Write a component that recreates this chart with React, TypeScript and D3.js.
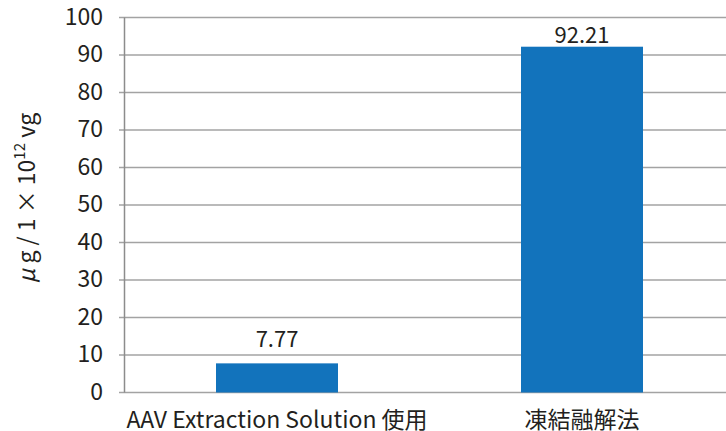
import React from "react";
import * as d3 from "d3";

const categories = ["AAV Extraction Solution 使用", "凍結融解法"];
const values = [7.77, 92.21];
const valueLabels = ["7.77", "92.21"];
const yTicks = [0, 10, 20, 30, 40, 50, 60, 70, 80, 90, 100];

const W = 726;
const H = 431;
const FONT = "'Noto Sans CJK JP', 'Noto Sans', sans-serif";

export default function App() {
  const x0 = 124.5;
  const x1 = 734.5;
  const y = d3.scaleLinear().domain([0, 100]).range([392.5, 17.5]);
  const x = d3.scaleBand<string>().domain(categories).range([x0, x1]).padding(0);
  const bw = x.bandwidth() * 0.4;
  const textColor = "#231f20";
  return (
    <svg width={W} height={H} style={{ position: "absolute", left: 0, top: 0, background: "#fff" }}>
      {yTicks.map((t) => (
        <g key={t}>
          <line x1={119} x2={W} y1={y(t)} y2={y(t)} stroke="#a3a3a3" strokeWidth={1.5} />
          <text x={103} y={y(t) + 7} textAnchor="end" fontFamily={FONT} fontSize={23} fill={textColor}>
            {t}
          </text>
        </g>
      ))}
      <line x1={x0} x2={x0} y1={y(100)} y2={y(0)} stroke="#8c8c8c" strokeWidth={1.5} />
      {categories.map((c, i) => {
        const cx = (x(c) as number) + x.bandwidth() / 2;
        const top = y(values[i]);
        const ly = Math.max(top - 16, y(100) + 25.5);
        return (
          <g key={c}>
            <rect x={cx - bw / 2} y={top} width={bw} height={y(0) - top} fill="#1273bc" />
            <text x={cx} y={ly} textAnchor="middle" fontFamily={FONT} fontSize={22} fill={textColor}>
              {valueLabels[i]}
            </text>
            <text x={cx} y={428} textAnchor="middle" fontFamily={FONT} fontSize={23} fill={textColor}>
              {c}
            </text>
          </g>
        );
      })}
      <text
        transform={`translate(35, 198) rotate(-90)`}
        textAnchor="middle"
        fontFamily={FONT}
        fontSize={23}
        fill={textColor}
      >
        <tspan fontStyle="italic">μ</tspan>
        <tspan> g / 1 × 10</tspan>
        <tspan fontSize={15} dy={-10}>12</tspan>
        <tspan dy={10}> vg</tspan>
      </text>
    </svg>
  );
}
